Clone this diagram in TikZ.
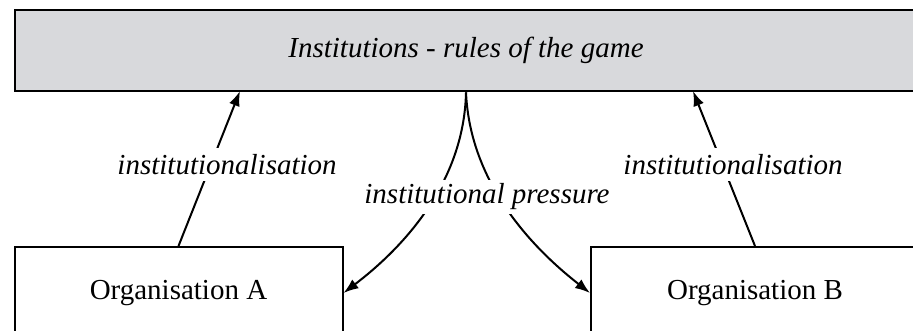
\documentclass[tikz,border=0pt]{standalone}
\usepackage{fontspec}
\setmainfont{Liberation Serif}
\usetikzlibrary{arrows.meta}
\definecolor{instgray}{RGB}{216,217,220}
\newcommand{\diagfont}{\fontsize{14.5}{17}\selectfont}
\begin{document}
\begin{tikzpicture}[x=0.5pt, y=-0.5pt, font=\diagfont]
    \tikzstyle{inst_box} = [shape = rectangle, draw = black, line width = 1.3pt, fill = instgray, minimum width = 451pt, minimum height = 40.5pt, font = \diagfont\itshape]
    \tikzstyle{org_box}  = [shape = rectangle, draw = black, line width = 1pt, minimum width = 164pt, minimum height = 46pt]
    \tikzstyle{lbl}      = [fill = white, inner xsep = 1pt, inner ysep = 3pt, font = \diagfont\itshape]
    \tikzstyle{conn}     = [-{Latex[length=7.5pt, width=5.5pt]}, line width = 1pt]

    \clip (0, 0) rectangle (913, 331);

    \node[inst_box] at (466, 50.5) (inst) {Institutions - rules of the game};
    \node[org_box]  at (178.5, 293) (orgA) {Organisation A};
    \node[org_box]  at (755, 293)   (orgB) {Organisation B};

    \coordinate (instA) at (240, 91);
    \coordinate (instB) at (693, 91);

    % upward arrows
    \draw[conn] (orgA.north) -- node[lbl, xshift=8.9pt, yshift=2pt] {institutionalisation} (instA);
    \draw[conn] (orgB.north) -- node[lbl, xshift=4.5pt, yshift=2pt] {institutionalisation} (instB);

    % downward pressure
    \draw[conn] (inst.south) .. controls (464, 185) and (400, 250) .. (orgA.east);
    \draw[conn] (inst.south) .. controls (470, 185) and (535, 250) .. (orgB.west);
    \node[lbl, inner ysep = 2pt] at (487, 197) (press) {institutional pressure};
\end{tikzpicture}
\end{document}
